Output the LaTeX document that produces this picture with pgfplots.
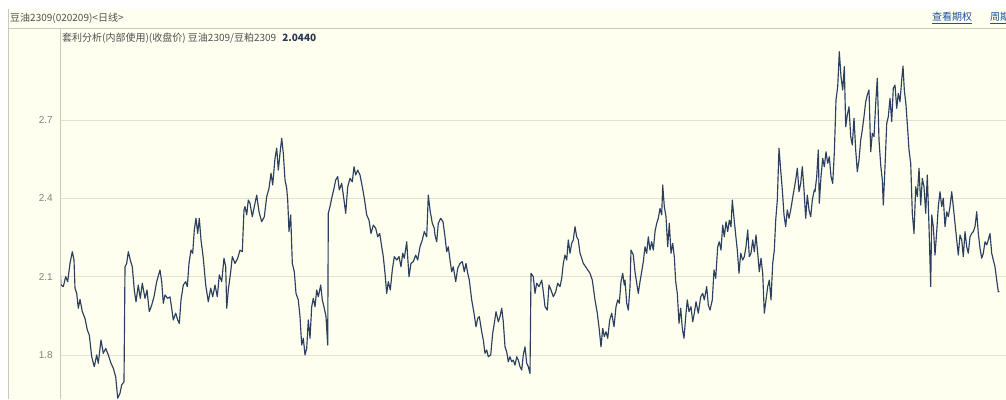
\documentclass[border=0pt]{standalone}
\usepackage{pgfplots}
\pgfplotsset{compat=1.18}
\usepackage{fontspec}
\setmainfont{Liberation Sans}
\newfontfamily\cjk{Noto Sans CJK SC}
\definecolor{bgc}{RGB}{255,255,240}
\definecolor{gridc}{RGB}{226,226,212}
\definecolor{axisc}{RGB}{200,200,190}
\definecolor{linec}{RGB}{42,64,94}
\definecolor{hdr}{RGB}{80,80,80}
\definecolor{tickc}{RGB}{130,130,130}
\definecolor{linkc}{RGB}{30,80,160}
\definecolor{valc}{RGB}{40,55,85}
\begin{document}
\begin{tikzpicture}[x=1pt,y=1pt]
\useasboundingbox (0,0) rectangle (1006,399);
\fill[white] (0,0) rectangle (1006,399);
\fill[bgc] (8,0) rectangle (1006,390);
\draw[axisc, line width=0.6] (8,0) -- (8,390);
\draw[axisc, line width=0.8] (8,371) -- (1006,371);
\node[anchor=west, inner sep=0, font=\cjk\fontsize{10}{12}\selectfont, text=hdr] at (10,381) {豆油2309(020209)<日线>};
\node[anchor=west, inner sep=0, font=\cjk\fontsize{10}{12}\selectfont, text=linkc] at (932,381) {\underline{查看期权}};
\node[anchor=west, inner sep=0, font=\cjk\fontsize{10}{12}\selectfont, text=linkc] at (990,381) {\underline{周期}};
\begin{axis}[
  at={(60pt,0pt)}, anchor=south west,
  scale only axis, width=946pt, height=371pt,
  xmin=60, xmax=1006, ymin=1.6309, ymax=3.0540,
  axis line style={draw=none},
  xtick=\empty,
  ytick={1.8,2.1,2.4,2.7},
  yticklabels={1.8,2.1,2.4,2.7},
  major tick length=0pt,
  ymajorgrids, grid style={gridc, line width=0.8pt},
  yticklabel style={font=\fontsize{10}{12}\selectfont, text=tickc, anchor=east, inner sep=0pt, xshift=-7pt},
  clip=true,
]
\addplot[linec, line width=1.15pt, line join=round] coordinates {
(60,2.132)(61,2.068)(63.3,2.062)(65.7,2.100)(67.7,2.081)(70,2.151)(72.3,2.196)(74,2.164)(75,2.056)(76.7,2.036)
(78.3,1.979)(80,2.013)(82.3,1.966)(85,1.940)(87.3,1.896)(89.3,1.876)(91.7,1.793)(94.3,1.755)(96.7,1.800)(98.3,1.768)
(101,1.857)(103.3,1.806)(105.7,1.825)(108.3,1.800)(111,1.768)(113.3,1.749)(115.7,1.716)(117.7,1.634)(120,1.653)(121.7,1.685)
(124,1.697)(125,2.138)(126.7,2.151)(128.3,2.196)(130.7,2.158)(132.3,2.138)(134.3,2.049)(136,2.004)(138.3,2.068)(140.3,2.017)
(142.3,2.075)(145,2.017)(147,2.049)(149.3,1.966)(151.7,1.991)(154,2.023)(156.7,2.081)(160,2.126)(161.7,2.081)(163.3,1.998)
(165,2.030)(167.7,2.017)(170,2.023)(171.7,1.979)(173.3,1.934)(175.7,1.960)(177.7,1.934)(179.3,1.921)(181,2.011)(183.3,2.068)
(185.7,2.081)(187.3,2.062)(189,2.151)(191,2.202)(192.7,2.190)(194.3,2.279)(196,2.324)(197.7,2.266)(199.3,2.324)(201,2.241)
(203.3,2.171)(205.7,2.068)(208.3,2.004)(210.7,2.056)(212.7,2.023)(215,2.068)(217.3,2.023)(219.3,2.107)(221.7,2.081)(224,2.171)
(225.7,2.138)(226.7,1.979)(228.3,2.049)(230.7,2.119)(232.3,2.177)(235,2.151)(237.7,2.171)(240,2.202)(242.3,2.196)(244,2.356)
(245,2.369)(246.7,2.337)(248.3,2.394)(250,2.382)(252.3,2.330)(254.3,2.369)(256.7,2.413)(259,2.349)(261.7,2.311)(264.3,2.330)
(266.7,2.407)(269,2.439)(271,2.497)(272.7,2.452)(275,2.554)(276.7,2.593)(278.3,2.509)(280,2.573)(281.7,2.631)(283.3,2.573)
(285,2.471)(286.7,2.439)(287.7,2.394)(289,2.273)(290.7,2.337)(292.3,2.151)(294.3,2.119)(296,2.036)(298.3,2.011)(300,1.947)
(301.7,1.838)(303.3,1.864)(305,1.800)(306.7,1.825)(308.3,1.934)(310,1.864)(311.7,1.985)(313.3,2.017)(315,1.985)(316.7,2.049)
(318.3,2.023)(320.7,2.068)(322.3,2.011)(324.3,1.979)(326,1.947)(327.7,1.838)(328.3,2.343)(330,2.369)(331.7,2.401)(333.7,2.433)
(335.7,2.471)(337.7,2.484)(339.3,2.433)(341.7,2.458)(344,2.394)(345.7,2.343)(347.7,2.445)(350,2.477)(352.3,2.464)(354,2.522)
(355.7,2.490)(357.7,2.509)(360,2.490)(362.3,2.445)(364.3,2.401)(366.7,2.337)(369,2.317)(371,2.266)(373.3,2.298)(375.7,2.286)
(377.7,2.253)(379.7,2.266)(381.7,2.215)(383.3,2.177)(385,2.113)(386.7,2.036)(388.3,2.081)(390.3,2.049)(392.3,2.126)(394.3,2.177)
(396.7,2.164)(399,2.177)(401,2.138)(402.7,2.190)(404.3,2.171)(406.7,2.234)(409,2.100)(411,2.151)(413.3,2.158)(415.7,2.183)
(417.7,2.164)(420,2.215)(422.3,2.241)(424.3,2.273)(426.7,2.253)(428.3,2.413)(430,2.356)(432.3,2.305)(434.3,2.286)
(435,2.260)(436.7,2.234)(438.3,2.305)(440.7,2.324)(443,2.311)(445,2.253)(446.7,2.196)(448.3,2.215)(450,2.164)(451.7,2.119)
(453.3,2.138)(455.7,2.081)(457.7,2.132)(460,2.151)(462.3,2.158)(464.3,2.119)(466,2.151)(467.7,2.113)(469.3,2.087)(471.7,2.011)
(474,1.960)(476,1.908)(477.7,1.940)(479.3,1.947)(481.7,1.889)(483.3,1.857)(485,1.806)(486.7,1.819)(488.3,1.793)(490.7,1.800)
(492.7,1.883)(494.3,1.921)(496,1.966)(498.3,1.927)(500,1.947)(501.7,1.979)(503.3,1.927)(505,1.831)(506.7,1.812)(508.3,1.774)
(510,1.793)(511.7,1.774)(513.3,1.780)(515,1.761)(516.7,1.793)(518.3,1.780)(520,1.755)(521.7,1.742)(523.3,1.800)(525,1.831)
(526.7,1.768)(528.3,1.755)(530,1.729)(531,2.113)(533.3,2.100)(535,2.036)(536.7,2.075)(539,2.062)(541.7,2.087)(543.3,2.042)
(545,1.985)(547.3,1.972)(549,2.068)(551,2.049)(553.3,2.023)(555.7,2.042)(557.7,2.075)(560,2.062)(561.7,2.094)(563.3,2.151)
(565,2.183)(566.7,2.164)(568.3,2.241)(570,2.190)(571.7,2.228)(573.3,2.241)(575,2.292)(576.7,2.253)(578.3,2.241)(580,2.190)
(581.7,2.171)(583.3,2.151)(585.7,2.138)(587.7,2.126)(590,2.113)(592.3,2.087)(595,2.011)(597.3,1.960)(599.3,1.896)(601,1.831)
(602.7,1.902)(604.3,1.870)(606,1.889)(607.7,1.864)(609.7,1.934)(611.7,1.960)(614,1.908)(616,1.985)(617.7,2.011)(619.3,1.998)
(621,2.081)(622.7,2.113)(624.3,2.068)
(625,2.087)(626.7,1.998)(628.3,1.972)(630,2.062)(631,2.202)(633.3,2.183)(635,2.119)(636.7,2.075)(638.3,2.036)(640,2.081)
(641.7,2.119)(643.3,2.158)(645,2.215)(646.7,2.190)(648.3,2.253)(650,2.202)(651.7,2.234)(653.3,2.202)(655,2.273)(656.7,2.305)
(658.3,2.324)(660,2.362)(661.7,2.337)(662.7,2.452)(664.3,2.369)(666,2.330)(667.7,2.215)(669.3,2.305)(671,2.190)(672.7,2.228)
(674.3,2.177)(675.7,2.081)(677.3,2.036)(679,1.921)(680.7,1.979)(682.3,1.902)(684,1.864)(685.7,1.947)(687.3,2.011)(689,1.966)
(691,1.985)(692.7,1.927)(694.3,1.960)(696,2.004)(698.3,1.960)(700.7,2.023)(702.7,2.036)(704.3,2.011)(706.7,2.062)(708.3,1.991)
(710,1.972)(712.3,2.011)(714,2.126)(715.7,2.094)(717.7,2.215)(719.3,2.234)(721,2.202)(722.7,2.298)(724.3,2.253)(726,2.311)
(727.7,2.273)(729.3,2.317)(731,2.292)(732.3,2.394)(734,2.324)(735.7,2.260)(737.3,2.202)(739,2.113)(740.7,2.190)(742.7,2.164)
(744.3,2.177)(746,2.215)(747.7,2.279)(749.3,2.177)(751,2.190)(752.7,2.241)(754.3,2.196)(756,2.260)(757.7,2.190)(759.3,2.119)
(761,2.171)(762.7,2.113)(764.3,1.960)(766,2.011)(767.7,2.062)(769.3,2.087)(771,2.011)(772.7,2.151)(774.3,2.202)(775.7,2.317)
(777.3,2.394)(779,2.593)(780.7,2.509)(782.3,2.433)(784,2.337)(785.7,2.292)(787.3,2.356)(789,2.324)(790.7,2.356)(792.3,2.394)
(794,2.433)(795.7,2.471)(797.3,2.516)(799,2.426)(800.7,2.458)(802.3,2.522)(804,2.433)(805.7,2.324)(807.3,2.413)(809,2.356)
(810.7,2.330)(812.3,2.394)(814.3,2.433)
(815,2.426)(816.7,2.484)(818.3,2.586)(819.3,2.382)(821,2.484)(822.7,2.554)(824.3,2.522)(826,2.579)(827.7,2.535)(829.3,2.560)
(831,2.484)(832.7,2.458)(834.3,2.573)(836,2.778)(837.7,2.829)(839.3,2.963)(841,2.867)(842.7,2.816)(844.3,2.906)(845.7,2.675)
(847.3,2.720)(849,2.752)(850.7,2.637)(852.3,2.605)(854,2.708)(855.7,2.586)(857.3,2.503)(859,2.548)(860.7,2.624)(862.3,2.663)
(864,2.714)(865.7,2.771)(867.3,2.797)(869,2.816)(870.7,2.579)(872.3,2.650)(874,2.637)(875.7,2.765)(877.3,2.861)(879,2.624)
(880.7,2.528)(882.3,2.471)(883.3,2.375)(885,2.522)(886.7,2.688)(888.3,2.714)(890,2.784)(891.7,2.695)(893.3,2.823)(895,2.835)
(896.7,2.746)(898.3,2.803)(900,2.771)(901.7,2.855)(903,2.908)(904.3,2.816)(906,2.759)(907.7,2.663)(909,2.586)(910.7,2.535)
(912.3,2.343)(914,2.266)(915.7,2.445)(917.3,2.407)(919,2.516)(920.7,2.375)(922.3,2.477)(924,2.445)(925.7,2.343)(927.3,2.490)
(929,2.292)(930.7,2.062)(931.7,2.337)(933.3,2.292)(935,2.183)(936.7,2.273)(938.3,2.369)(940,2.426)(941.7,2.369)(943.3,2.401)
(945,2.292)(946.7,2.349)(948.3,2.330)(950,2.369)(951.7,2.426)(953.3,2.369)(955,2.305)(956.7,2.241)(958.3,2.183)(960,2.260)
(961.7,2.241)(963.3,2.177)(965,2.273)(966.7,2.215)(968.3,2.190)(970,2.253)(971.7,2.266)(973.3,2.273)(975,2.292)(976.7,2.349)
(978.3,2.266)(980,2.209)(981.7,2.171)(983.3,2.190)(985,2.234)(986.7,2.222)(988.3,2.241)(990,2.266)(991.7,2.190)(993.3,2.164)
(995,2.138)(996.7,2.087)(998.3,2.042)(999.3,2.044)
};
\end{axis}
\draw[axisc, line width=0.8] (60,0) -- (60,371);
\node[anchor=west, inner sep=0, font=\cjk\fontsize{10}{12}\selectfont, text=hdr] at (62,361) {套利分析(内部使用)(收盘价) 豆油2309/豆粕2309\hspace{6pt}{\bfseries\color{valc}2.0440}};
\end{tikzpicture}
\end{document}
